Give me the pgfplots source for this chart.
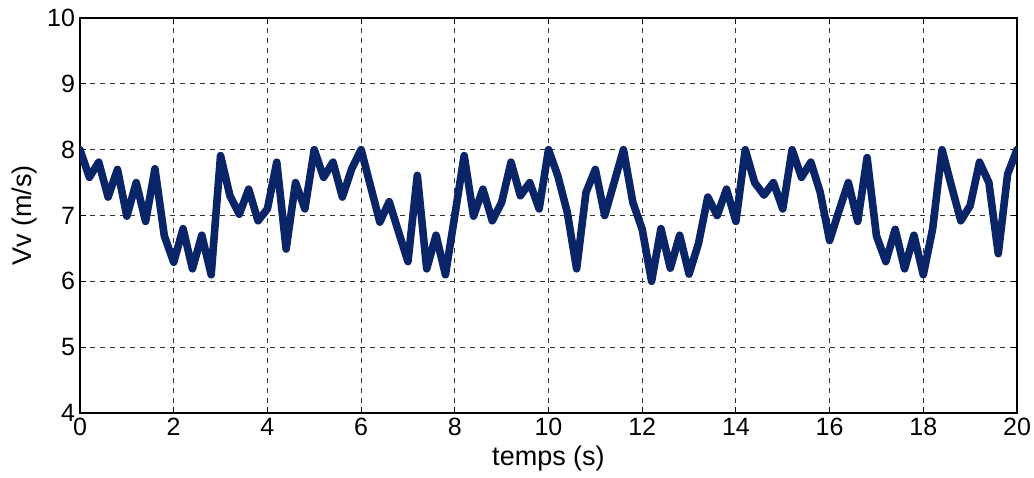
\documentclass[border=0pt]{standalone}
\usepackage{pgfplots}
\pgfplotsset{compat=1.18}
\usepackage{fontspec}
\setmainfont{Liberation Sans}
\definecolor{navy}{RGB}{10,36,104}

\begin{document}
\begin{tikzpicture}
\begin{axis}[
    scale only axis,
    width=468.5pt, height=197.5pt,
    xmin=0, xmax=20, ymin=4, ymax=10,
    xtick={0,2,...,20}, ytick={4,5,...,10},
    grid=major,
    major grid style={black!80, line width=0.5pt, dash pattern=on 2.5pt off 2.5pt},
    tick align=inside,
    major tick length=3pt,
    tick style={black, line width=0.5pt},
    axis line style={black, line width=0.6pt},
    /pgf/number format/assume math mode=true,
    ticklabel style={font=\fontsize{12.5}{14}\selectfont},
    label style={font=\fontsize{13.5}{15}\selectfont},
    xticklabel style={yshift=1pt},
    yticklabel style={xshift=1pt},
    xlabel={temps (s)},
    ylabel={Vv (m/s)},
    xlabel style={yshift=2pt},
    ylabel style={yshift=-2pt},
]
\addplot[navy, line width=3.8pt, line join=round, line cap=round] coordinates {
(0.0,8.00) (0.2,7.58) (0.4,7.81) (0.6,7.28) (0.8,7.70)
(1.0,6.99) (1.2,7.50) (1.4,6.91) (1.6,7.71) (1.8,6.69)
(2.0,6.29) (2.2,6.80) (2.4,6.19) (2.6,6.70) (2.8,6.10)
(3.0,7.91) (3.2,7.30) (3.4,7.02) (3.6,7.40) (3.8,6.92)
(4.0,7.10) (4.2,7.81) (4.4,6.49) (4.6,7.50) (4.8,7.10)
(5.0,8.00) (5.2,7.58) (5.4,7.81) (5.6,7.28) (5.8,7.71)
(6.0,8.00) (6.2,7.45) (6.4,6.90) (6.6,7.21) (6.8,6.75)
(7.0,6.30) (7.2,7.61) (7.4,6.19) (7.6,6.70) (7.8,6.10)
(8.0,7.00) (8.2,7.91) (8.4,6.99) (8.6,7.40) (8.8,6.92)
(9.0,7.20) (9.2,7.81) (9.4,7.30) (9.6,7.50) (9.8,7.10)
(10.0,8.00) (10.2,7.60) (10.4,7.05) (10.6,6.19) (10.8,7.35)
(11.0,7.70) (11.2,7.00) (11.4,7.50) (11.6,8.00) (11.8,7.20)
(12.0,6.79) (12.2,6.00) (12.4,6.80) (12.6,6.20) (12.8,6.70)
(13.0,6.11) (13.2,6.57) (13.4,7.28) (13.6,7.00) (13.8,7.40)
(14.0,6.91) (14.2,8.00) (14.4,7.50) (14.6,7.31) (14.8,7.50)
(15.0,7.10) (15.2,8.00) (15.4,7.58) (15.6,7.81) (15.8,7.35)
(16.0,6.62) (16.2,7.07) (16.4,7.50) (16.6,6.91) (16.8,7.88)
(17.0,6.69) (17.2,6.30) (17.4,6.79) (17.6,6.19) (17.8,6.70)
(18.0,6.10) (18.2,6.80) (18.4,8.00) (18.6,7.45) (18.8,6.92)
(19.0,7.15) (19.2,7.81) (19.4,7.50) (19.6,6.42) (19.8,7.63)
(20.0,8.00)
};
\end{axis}
\pgfresetboundingbox
\useasboundingbox ([shift={(-40pt,-32pt)}]current axis.south west) rectangle ([shift={(8.5pt,9pt)}]current axis.north east);
\end{tikzpicture}
\end{document}
